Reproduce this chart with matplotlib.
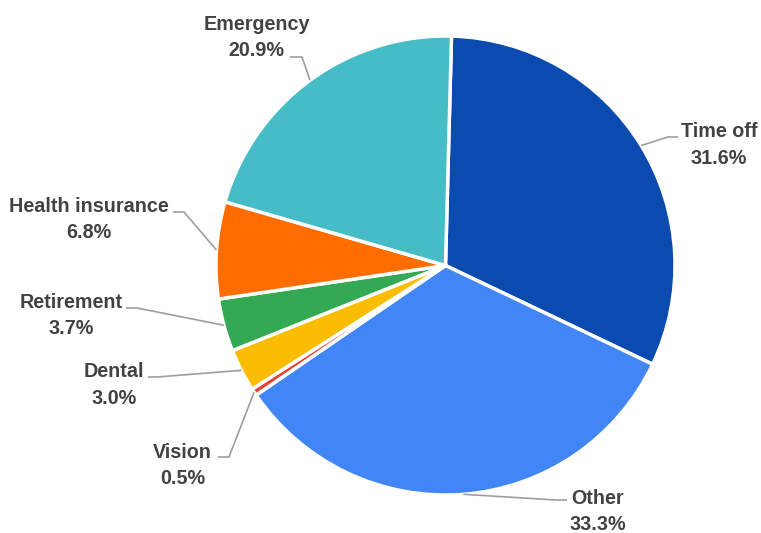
import numpy as np
import matplotlib
matplotlib.use('Agg')
import matplotlib.pyplot as plt

# benefit categories, clockwise from 12 o'clock
labels = ['Time off', 'Other', 'Vision', 'Dental', 'Retirement', 'Health insurance', 'Emergency']
shares = [31.6, 33.3, 0.5, 3.0, 3.7, 6.8, 20.9]
colors = ['#0B4AAE', '#4285F4', '#EA4335', '#FBBC04', '#34A853', '#FF6D01', '#46BDC6']

W, H = 761, 533
cx, cy, rad = 445.5, 265.5, 229.5

# label placement in pixel space: text centre x, first baseline y, line gap, leader elbow, leader end
label_pos = {
    'Time off':         (719, 137, 26.5, (668, 137), (678, 137)),
    'Other':            (598, 504, 25.5, (556, 500), (567, 500)),
    'Vision':           (182.5, 458, 26.5, (229, 457), (218, 457)),
    'Dental':           (114, 377, 26.5, (157, 377), (148, 377)),
    'Retirement':       (71, 308, 26.5, (137, 308), (126, 308)),
    'Health insurance': (88.5, 212, 26.5, (184, 212), (173, 212)),
    'Emergency':        (256.5, 30, 26.5, (302, 57), (290, 57)),
}


def px(x, y):
    return x, H - y


fig = plt.figure(figsize=(W / 100, H / 100), dpi=100)
ax = fig.add_axes([0, 0, 1, 1])

wedges, _ = ax.pie(shares, colors=colors, startangle=88.5, counterclock=False,
                   center=px(cx, cy), radius=rad,
                   wedgeprops=dict(edgecolor='white', linewidth=2.5))

# pie() resets the view, so pin the axes to pixel units afterwards
ax.set_xlim(0, W)
ax.set_ylim(0, H)
ax.set_aspect('equal')
ax.axis('off')

font = dict(family=['Liberation Sans', 'DejaVu Sans'], weight='bold',
            size=14.2, color='#424242')

for w, name, val in zip(wedges, labels, shares):
    tx, ty, gap, elbow, end = label_pos[name]
    mid = np.deg2rad((w.theta1 + w.theta2) / 2)
    ax_x = cx + rad * np.cos(mid)
    ax_y = cy - rad * np.sin(mid)
    xs = [ax_x, elbow[0], end[0]]
    ys = [H - ax_y, H - elbow[1], H - end[1]]
    ax.plot(xs, ys, color='#9E9E9E', linewidth=1.2, solid_capstyle='butt')
    ax.text(*px(tx, ty), name, ha='center', va='baseline', **font)
    ax.text(*px(tx, ty + gap), f'{val:.1f}%', ha='center', va='baseline', **font)

fig.savefig('out.png', dpi=100)
